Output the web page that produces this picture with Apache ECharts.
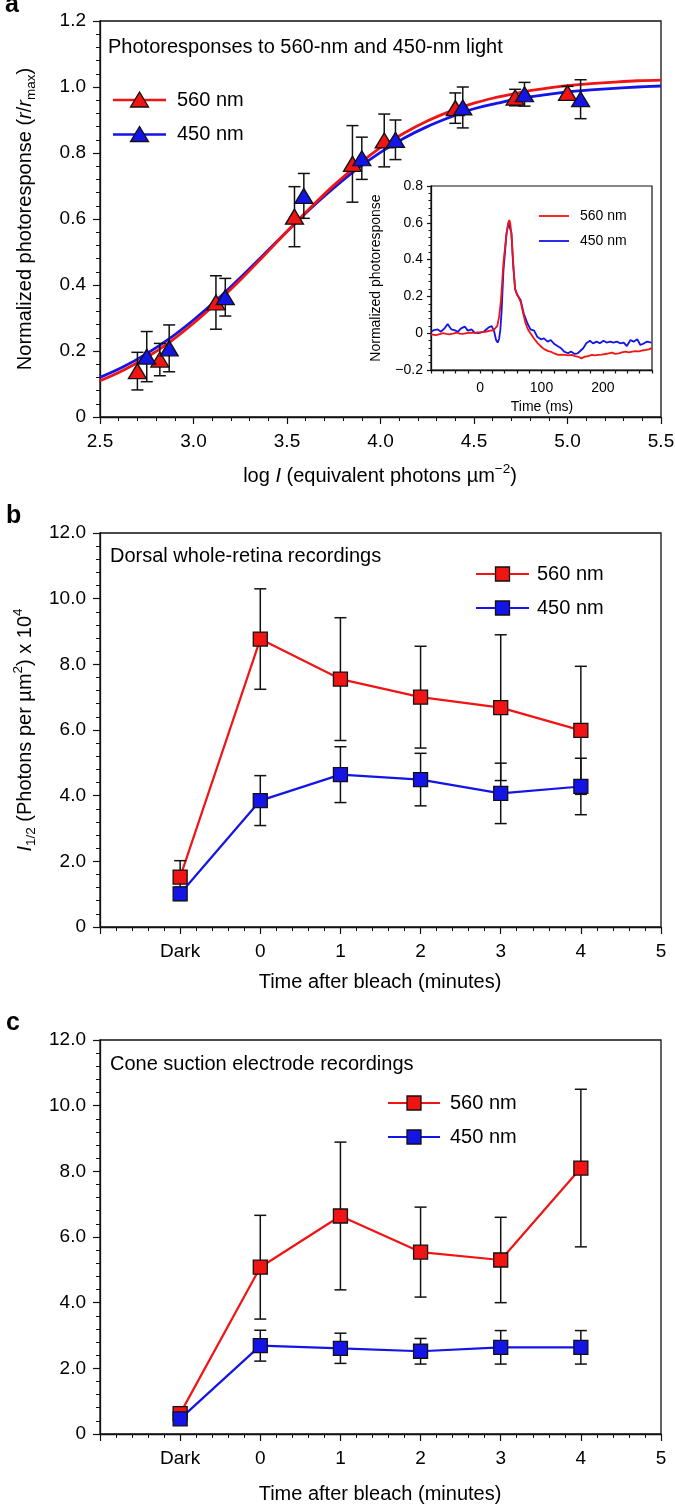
<!DOCTYPE html>
<html><head><meta charset="utf-8">
<script src="https://cdn.jsdelivr.net/npm/echarts@6/dist/echarts.min.js"></script>
<style>html,body{margin:0;padding:0;background:#fff}#c{width:675px;height:1505px}</style>
</head><body><div id="c"></div>
<script>
const FONT = '"Liberation Sans", Arial, Helvetica, sans-serif';
const RED = '#f01414', BLUE = '#1414e6', INK = '#111';

// ---------- Panel a: intensity-response data ----------
const aLogI560 = [2.70, 2.82, 3.12, 3.54, 3.85, 4.02, 4.40, 4.72, 5.00];
const aResp560 = [0.139, 0.174, 0.347, 0.607, 0.767, 0.838, 0.936, 0.968, 0.982];
const aErr560  = [0.057, 0.049, 0.081, 0.091, 0.116, 0.080, 0.046, 0.025, 0.020];
const aLogI450 = [2.75, 2.87, 3.17, 3.59, 3.90, 4.08, 4.44, 4.77, 5.07];
const aResp450 = [0.183, 0.208, 0.363, 0.670, 0.784, 0.840, 0.938, 0.978, 0.963];
const aErr450  = [0.076, 0.071, 0.057, 0.068, 0.064, 0.060, 0.062, 0.036, 0.059];
// fitted curves
const aFitX   = [2.5, 2.625, 2.75, 2.875, 3.0, 3.125, 3.25, 3.375, 3.5, 3.625, 3.75, 3.875, 4.0, 4.125, 4.25, 4.375, 4.5, 4.625, 4.75, 4.875, 5.0, 5.125, 5.25, 5.375, 5.5];
const aFit560 = [0.110, 0.142, 0.181, 0.228, 0.284, 0.347, 0.415, 0.488, 0.562, 0.634, 0.702, 0.762, 0.816, 0.860, 0.897, 0.927, 0.951, 0.969, 0.984, 0.995, 1.004, 1.010, 1.015, 1.019, 1.021];
const aFit450 = [0.120, 0.152, 0.192, 0.239, 0.294, 0.355, 0.422, 0.492, 0.562, 0.631, 0.694, 0.752, 0.802, 0.845, 0.880, 0.909, 0.934, 0.951, 0.966, 0.976, 0.985, 0.991, 0.996, 1.000, 1.003];

// ---------- Inset: photoresponse traces ----------
const inT560 = [-80,-72,-64,-60,-55,-50,-44,-38,-33,-28,-22,-16,-10,-5,0,5,10,16,22,25,28,31,34,38,43,46,47.5,49,51,54,57,60,63,66,69,74,78,82,88,94,100,105,110,116,121,127,132,138,143,149,155,160,165,170,176,182,187,193,198,204,209,215,220,226,231,237,242,248,253,259,264,270,275,280];
const inV560 = [-0.006,-0.010,-0.004,0.000,-0.004,-0.006,-0.002,0.003,-0.002,-0.004,0.000,0.003,0.002,0.005,0.004,0.007,0.008,0.014,0.016,0.020,0.040,0.090,0.180,0.380,0.543,0.600,0.615,0.600,0.540,0.380,0.240,0.215,0.210,0.170,0.126,0.054,0.020,0.000,-0.030,-0.055,-0.075,-0.088,-0.096,-0.102,-0.110,-0.118,-0.116,-0.118,-0.121,-0.118,-0.124,-0.128,-0.137,-0.128,-0.124,-0.118,-0.121,-0.118,-0.116,-0.113,-0.110,-0.106,-0.112,-0.110,-0.104,-0.100,-0.104,-0.100,-0.097,-0.099,-0.094,-0.091,-0.088,-0.080];
const inT450 = [-80,-75,-69,-64,-58,-53,-47,-42,-36,-31,-25,-20,-14,-9,-3,2,6,10,14,19,23,26,28.6,31,33,35,38,43,46,47.5,49,51,54,57,60,63,66,71,77,82,88,93,99,104,110,115,121,126,132,137,143,148,154,159,162,168,173,179,184,190,195,201,206,212,217,223,228,234,239,245,250,256,261,267,272,279];
const inV450 = [0.008,0.017,0.021,0.008,0.026,0.050,0.021,0.017,0.008,0.026,0.036,0.014,0.021,0.003,0.000,0.005,0.008,0.020,0.032,0.039,0.008,-0.037,-0.051,-0.030,0.020,0.120,0.340,0.540,0.600,0.610,0.595,0.545,0.360,0.240,0.210,0.200,0.180,0.108,0.054,0.021,0.014,-0.019,-0.033,-0.028,-0.046,-0.037,-0.059,-0.070,-0.082,-0.100,-0.109,-0.100,-0.113,-0.109,-0.118,-0.082,-0.055,-0.041,-0.055,-0.046,-0.055,-0.041,-0.051,-0.046,-0.051,-0.046,-0.055,-0.051,-0.070,-0.037,-0.046,-0.033,-0.064,-0.055,-0.046,-0.051];

// ---------- Panels b & c: time after bleach (-1 = Dark) ----------
const timeCats = [-1, 0, 1, 2, 3, 4];
const bRed     = [1.52, 8.77, 7.55, 7.00, 6.68, 5.99];
const bRedErr  = [0.50, 1.53, 1.87, 1.55, 2.22, 1.95];
const bBlue    = [1.01, 3.85, 4.64, 4.49, 4.07, 4.28];
const bBlueErr = [0.20, 0.76, 0.85, 0.80, 0.92, 0.86];
const cRed     = [0.62, 5.08, 6.64, 5.54, 5.30, 8.10];
const cRedErr  = [0.10, 1.58, 2.25, 1.37, 1.30, 2.40];
const cBlue    = [0.46, 2.69, 2.61, 2.52, 2.64, 2.64];
const cBlueErr = [0.08, 0.47, 0.46, 0.39, 0.51, 0.51];

const chart = echarts.init(document.getElementById('c'), null, {renderer: 'canvas'});

function zip(xs, ys) { return xs.map((x, i) => [x, ys[i]]); }
function errData(xs, ys, es) { return xs.map((x, i) => [x, ys[i] - es[i], ys[i] + es[i]]); }

function errSeries(idx, data) {
  return {
    type: 'custom', xAxisIndex: idx, yAxisIndex: idx, z: 3, silent: true,
    encode: {x: 0, y: [1, 2]},
    renderItem: (params, api) => {
      const x = api.value(0), lo = api.value(1), hi = api.value(2);
      const p1 = api.coord([x, lo]), p2 = api.coord([x, hi]);
      const hw = 6;
      const st = {stroke: INK, lineWidth: 1.5, fill: null};
      return {type: 'group', children: [
        {type: 'line', shape: {x1: p1[0], y1: p1[1], x2: p2[0], y2: p2[1]}, style: st},
        {type: 'line', shape: {x1: p1[0] - hw, y1: p1[1], x2: p1[0] + hw, y2: p1[1]}, style: st},
        {type: 'line', shape: {x1: p2[0] - hw, y1: p2[1], x2: p2[0] + hw, y2: p2[1]}, style: st}
      ]};
    },
    data: data
  };
}

function mkAxis(o) {
  return {
    type: 'value', gridIndex: o.grid, min: o.min, max: o.max, interval: o.interval,
    axisLine: {show: true, onZero: false, lineStyle: {color: INK, width: 1.3}},
    axisTick: {show: true, inside: false, length: o.tickLen || 7, lineStyle: {color: INK, width: 1.2}},
    minorTick: {show: !!o.minor, splitNumber: o.minor || 5, length: o.minorLen || 4, lineStyle: {color: INK, width: 1}},
    splitLine: {show: false}, minorSplitLine: {show: false},
    axisLabel: {color: '#000', fontFamily: FONT, fontSize: o.fs || 19, margin: o.margin || 14,
      formatter: o.fmt, showMinLabel: true, showMaxLabel: true}
  };
}

const fmtA = v => (Math.abs(v) < 1e-9 ? '0' : v.toFixed(1));
const fmtInY = v => (Math.abs(v) < 1e-9 ? '0' : (v < 0 ? '\u2212' + Math.abs(v).toFixed(1) : v.toFixed(1)));
const fmtInX = v => (Math.abs(Math.round(v) % 100) === 0 ? String(Math.round(v)) : '');
const fmtTime = v => (Math.round(v) === -1 ? 'Dark' : (v < -1 ? '' : String(Math.round(v))));

const gridBase = {show: true, borderColor: INK, borderWidth: 1.3, containLabel: false, outerBoundsMode: 'none'};

const RICH = {
  i: {fontStyle: 'italic', fontSize: 20, fontFamily: FONT, fill: '#000'},
  sup: {fontSize: 13.5, fontFamily: FONT, fill: '#000', verticalAlign: 'top', lineHeight: 13},
  sub: {fontSize: 13.5, fontFamily: FONT, fill: '#000', verticalAlign: 'bottom', lineHeight: 13}
};

function txt(x, y, text, o) {
  o = o || {};
  return {
    type: 'text', x: x, y: y, rotation: o.rot || 0, z: 20,
    style: {
      text: text, fontSize: o.fs || 20, fontFamily: FONT, fontWeight: o.bold ? 'bold' : 'normal',
      fill: '#000', align: o.align || 'left', textAlign: o.align || 'left',
      verticalAlign: 'middle', textVerticalAlign: 'middle',
      lineHeight: o.lh || 27, rich: o.rich || undefined
    }
  };
}

function legendItem(x1, x2, y, color, shape, textX, label, fs, lw) {
  const cx = (x1 + x2) / 2;
  const els = [{type: 'line', z: 20, shape: {x1: x1, y1: y, x2: x2, y2: y}, style: {stroke: color, lineWidth: lw || 2.6}}];
  if (shape === 'tri') {
    els.push({type: 'polygon', z: 21, shape: {points: [[cx, y - 8], [cx - 9, y + 7], [cx + 9, y + 7]]},
      style: {fill: color, stroke: INK, lineWidth: 1.3}});
  } else if (shape === 'rect') {
    els.push({type: 'rect', z: 21, shape: {x: cx - 7, y: y - 7, width: 14, height: 14},
      style: {fill: color, stroke: INK, lineWidth: 1.3}});
  }
  els.push(txt(textX, y, label, {fs: fs}));
  return els;
}

const markerStyle = c => ({color: c, borderColor: INK, borderWidth: 1.3, opacity: 1});

const option = {
  animation: false,
  backgroundColor: '#fff',
  grid: [
    Object.assign({left: 100, top: 21, width: 561, height: 396}, gridBase),
    Object.assign({left: 431, top: 186, width: 221, height: 184, backgroundColor: '#fff'}, gridBase, {borderWidth: 1.2}),
    Object.assign({left: 100, top: 533, width: 561, height: 394}, gridBase),
    Object.assign({left: 100, top: 1040, width: 561, height: 394}, gridBase)
  ],
  xAxis: [
    mkAxis({grid: 0, min: 2.5, max: 5.5, interval: 0.5, minor: 5, fmt: v => v.toFixed(1), margin: 15}),
    mkAxis({grid: 1, min: -80, max: 280, interval: 20, fmt: fmtInX, fs: 14, margin: 11, tickLen: 3.5}),
    mkAxis({grid: 2, min: -2, max: 5, interval: 1, minor: 5, fmt: fmtTime, margin: 15}),
    mkAxis({grid: 3, min: -2, max: 5, interval: 1, minor: 5, fmt: fmtTime, margin: 15})
  ],
  yAxis: [
    mkAxis({grid: 0, min: 0, max: 1.2, interval: 0.2, minor: 5, fmt: fmtA}),
    mkAxis({grid: 1, min: -0.2, max: 0.8, interval: 0.2, minor: 5, fmt: fmtInY, fs: 14, margin: 8, tickLen: 4, minorLen: 2.5}),
    mkAxis({grid: 2, min: 0, max: 12, interval: 2, minor: 5, fmt: fmtA}),
    mkAxis({grid: 3, min: 0, max: 12, interval: 2, minor: 5, fmt: fmtA})
  ],
  series: [
    // panel a
    {type: 'line', name: 'fit450', xAxisIndex: 0, yAxisIndex: 0, data: zip(aFitX, aFit450), smooth: 0.4,
      showSymbol: false, symbol: 'none', z: 2, lineStyle: {color: BLUE, width: 2.8}},
    {type: 'line', name: 'fit560', xAxisIndex: 0, yAxisIndex: 0, data: zip(aFitX, aFit560), smooth: 0.4,
      showSymbol: false, symbol: 'none', z: 2, lineStyle: {color: RED, width: 2.8}},
    errSeries(0, errData(aLogI560, aResp560, aErr560)),
    errSeries(0, errData(aLogI450, aResp450, aErr450)),
    {type: 'scatter', name: '560 nm', xAxisIndex: 0, yAxisIndex: 0, z: 4, symbol: 'triangle', symbolSize: [18, 15],
      itemStyle: markerStyle(RED), data: zip(aLogI560, aResp560)},
    {type: 'scatter', name: '450 nm', xAxisIndex: 0, yAxisIndex: 0, z: 5, symbol: 'triangle', symbolSize: [18, 15],
      itemStyle: markerStyle(BLUE), data: zip(aLogI450, aResp450)},
    // inset
    {type: 'line', xAxisIndex: 1, yAxisIndex: 1, data: zip(inT450, inV450), symbol: 'none', z: 6,
      lineStyle: {color: BLUE, width: 1.8}},
    {type: 'line', xAxisIndex: 1, yAxisIndex: 1, data: zip(inT560, inV560), symbol: 'none', z: 7,
      lineStyle: {color: RED, width: 1.8}},
    // panel b
    {type: 'line', xAxisIndex: 2, yAxisIndex: 2, data: zip(timeCats, bRed), symbol: 'none', z: 2, lineStyle: {color: RED, width: 2.2}},
    {type: 'line', xAxisIndex: 2, yAxisIndex: 2, data: zip(timeCats, bBlue), symbol: 'none', z: 2, lineStyle: {color: BLUE, width: 2.2}},
    errSeries(2, errData(timeCats, bRed, bRedErr)),
    errSeries(2, errData(timeCats, bBlue, bBlueErr)),
    {type: 'scatter', xAxisIndex: 2, yAxisIndex: 2, z: 4, symbol: 'rect', symbolSize: 14, itemStyle: markerStyle(RED), data: zip(timeCats, bRed)},
    {type: 'scatter', xAxisIndex: 2, yAxisIndex: 2, z: 5, symbol: 'rect', symbolSize: 14, itemStyle: markerStyle(BLUE), data: zip(timeCats, bBlue)},
    // panel c
    {type: 'line', xAxisIndex: 3, yAxisIndex: 3, data: zip(timeCats, cRed), symbol: 'none', z: 2, lineStyle: {color: RED, width: 2.2}},
    {type: 'line', xAxisIndex: 3, yAxisIndex: 3, data: zip(timeCats, cBlue), symbol: 'none', z: 2, lineStyle: {color: BLUE, width: 2.2}},
    errSeries(3, errData(timeCats, cRed, cRedErr)),
    errSeries(3, errData(timeCats, cBlue, cBlueErr)),
    {type: 'scatter', xAxisIndex: 3, yAxisIndex: 3, z: 4, symbol: 'rect', symbolSize: 14, itemStyle: markerStyle(RED), data: zip(timeCats, cRed)},
    {type: 'scatter', xAxisIndex: 3, yAxisIndex: 3, z: 5, symbol: 'rect', symbolSize: 14, itemStyle: markerStyle(BLUE), data: zip(timeCats, cBlue)}
  ],
  graphic: [].concat(
    [
      txt(5, 5, 'a', {fs: 25, bold: true}),
      txt(6, 516, 'b', {fs: 25, bold: true}),
      txt(6, 1023, 'c', {fs: 25, bold: true}),
      txt(108, 47, 'Photoresponses to 560-nm and 450-nm light', {fs: 20}),
      txt(110, 556, 'Dorsal whole-retina recordings', {fs: 20}),
      txt(110, 1064, 'Cone suction electrode recordings', {fs: 20}),
      txt(380, 476, 'log {i|I} (equivalent photons \u00b5m{sup|\u22122})', {align: 'center', rich: RICH}),
      txt(25, 219, 'Normalized photoresponse ({i|r}/{i|r}{sub|max})', {align: 'center', rot: Math.PI / 2, rich: RICH}),
      txt(380, 982, 'Time after bleach (minutes)', {align: 'center'}),
      txt(25, 730, '{i|I}{sub|1/2} (Photons per \u00b5m{sup|2}) x 10{sup|4}', {align: 'center', rot: Math.PI / 2, rich: RICH}),
      txt(380, 1494, 'Time after bleach (minutes)', {align: 'center'}),
      txt(376, 278, 'Normalized photoresponse', {align: 'center', rot: Math.PI / 2, fs: 14, lh: 16}),
      txt(542, 407, 'Time (ms)', {align: 'center', fs: 14, lh: 16})
    ],
    legendItem(113, 166, 100, RED, 'tri', 177, '560 nm', 20),
    legendItem(113, 166, 134.5, BLUE, 'tri', 177, '450 nm', 20),
    legendItem(539, 569, 216, RED, null, 580, '560 nm', 14, 1.8),
    legendItem(539, 569, 241, BLUE, null, 580, '450 nm', 14, 1.8),
    legendItem(476, 529, 574, RED, 'rect', 537, '560 nm', 20, 2.2),
    legendItem(476, 529, 608, BLUE, 'rect', 537, '450 nm', 20, 2.2),
    legendItem(388, 440, 1103, RED, 'rect', 450, '560 nm', 20, 2.2),
    legendItem(388, 440, 1137, BLUE, 'rect', 450, '450 nm', 20, 2.2)
  )
};
chart.setOption(option);
</script>
</body></html>
